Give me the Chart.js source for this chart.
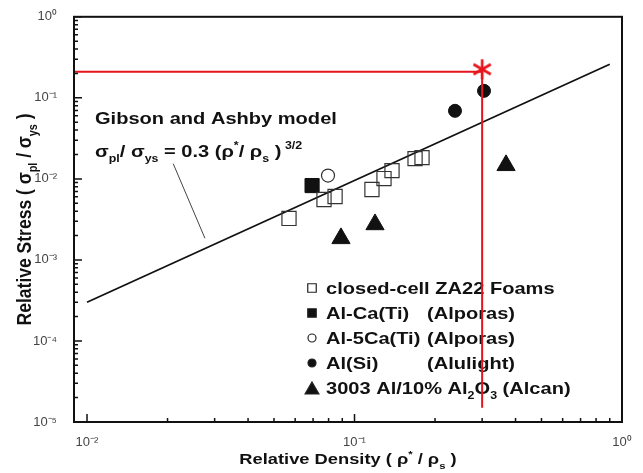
<!DOCTYPE html>
<html>
<head>
<meta charset="utf-8">
<script src="https://cdn.jsdelivr.net/npm/chart.js@4.4.1/dist/chart.umd.min.js"></script>
<style>
  html, body { margin: 0; padding: 0; background: #fff; }
  #wrap { width: 643px; height: 473px; }
</style>
</head>
<body>
<div id="wrap"><canvas id="chart"></canvas></div>
<script>
// relative density (x) vs relative plateau stress (y)
const za22X = [0.0569, 0.0769, 0.0846, 0.1162, 0.1289, 0.1381, 0.1684, 0.1788];
const za22Y = [0.00325, 0.00556, 0.00606, 0.00739, 0.01009, 0.01265, 0.01777, 0.01828];
const alCaX = [0.0694];
const alCaY = [0.00827];
const al5CaX = [0.0796];
const al5CaY = [0.0110];
const alSiX = [0.2375, 0.3049];
const alSiY = [0.0692, 0.122];
const alcanX = [0.089, 0.1193, 0.3685];
const alcanY = [0.001845, 0.00274, 0.0147];

// Gibson-Ashby line, its pointer, red guide lines and target mark
const modelX = [0.01, 0.9];
const modelY = [3.0e-4, 0.26];
const pointerX = [0.021, 0.0276];
const pointerY = [0.0154, 0.00185];
const guideX = [0.00894, 0.3, 0.3];
const guideY = [0.21, 0.21, 1.5e-5];
const markX = [0.3];
const markY = [0.225];

const xRange = [0.00894, 1];
const yRange = [1e-5, 1];

const legendNames = ['closed-cell ZA22 Foams', 'Al-Ca(Ti)', 'Al-5Ca(Ti)', 'Al(Si)', '3003 Al/10% Al_{2}O_{3} (Alcan)'];
const legendMakers = ['', '(Alporas)', '(Alporas)', '(Alulight)', ''];

const FONT = '"Liberation Sans", Arial, sans-serif';
const SX = 1.18;

const pts = (xs, ys) => xs.map((x, i) => ({ x, y: ys[i] }));

const SUP = { '-': '\u207B', '0': '\u2070', '1': '\u00B9', '2': '\u00B2', '3': '\u00B3', '4': '\u2074', '5': '\u2075' };
function powLabel(v) {
  const e = Math.round(Math.log10(v));
  if (Math.abs(Math.log10(v) - e) > 1e-6) return '';
  return '10' + String(e).split('').map(c => SUP[c]).join('');
}

// 6-armed asterisk used as a point style
function asterisk(size, color) {
  const c = document.createElement('canvas');
  c.width = c.height = size;
  const g = c.getContext('2d');
  g.strokeStyle = color;
  g.lineWidth = 2.6;
  const r = size / 2 - 1;
  for (let i = 0; i < 3; i++) {
    const a = Math.PI / 2 + i * Math.PI / 3;
    g.beginPath();
    g.moveTo(size / 2 + r * Math.cos(a), size / 2 + r * Math.sin(a));
    g.lineTo(size / 2 - r * Math.cos(a), size / 2 - r * Math.sin(a));
    g.stroke();
  }
  return c;
}

// text with _{..} subscripts and ^{..} superscripts, returns width
function richText(ctx, str, x, y, size, draw) {
  const parts = [];
  const re = /([_^])\{([^}]*)\}/g;
  let last = 0, m;
  while ((m = re.exec(str))) {
    if (m.index > last) parts.push({ t: str.slice(last, m.index), k: '' });
    parts.push({ t: m[2], k: m[1] });
    last = re.lastIndex;
  }
  if (last < str.length) parts.push({ t: str.slice(last), k: '' });
  let cx = x;
  parts.forEach(p => {
    const s = p.k ? size * 0.62 : size;
    const dy = p.k === '_' ? size * 0.3 : p.k === '^' ? -size * 0.45 : 0;
    ctx.font = `bold ${s}px ${FONT}`;
    if (draw !== false) ctx.fillText(p.t, cx, y + dy);
    cx += ctx.measureText(p.t).width;
  });
  return cx - x;
}

function wideText(ctx, str, x, y, size, sx) {
  ctx.save();
  ctx.translate(x, y);
  ctx.scale(sx, 1);
  richText(ctx, str, 0, 0, size);
  ctx.restore();
}

const legendStyles = [
  { pointStyle: 'rect', radius: 6, fill: 'rgba(0,0,0,0)' },
  { pointStyle: 'rect', radius: 6, fill: '#111' },
  { pointStyle: 'circle', radius: 4, fill: 'rgba(0,0,0,0)' },
  { pointStyle: 'circle', radius: 4, fill: '#111' },
  { pointStyle: 'triangle', radius: 8, fill: '#111' }
];

const decorations = {
  id: 'decorations',
  beforeDatasetsDraw(chart) {
    const ctx = chart.ctx;
    const area = chart.chartArea;
    ctx.save();
    ctx.fillStyle = '#111';
    ctx.textBaseline = 'alphabetic';
    // model annotation
    wideText(ctx, 'Gibson and Ashby model', 95, 124, 17, SX);
    wideText(ctx, '\u03C3_{pl}/ \u03C3_{ys} = 0.3 (\u03C1^{*}/ \u03C1_{s} )^{ 3/2}', 95, 157, 17, SX);

    // legend
    legendNames.forEach((name, i) => {
      const cy = 288 + i * 25;
      const st = legendStyles[i];
      ctx.lineWidth = 1.2;
      ctx.strokeStyle = '#222';
      ctx.fillStyle = st.fill;
      Chart.helpers.drawPoint(ctx, { pointStyle: st.pointStyle, radius: st.radius, borderWidth: 1.2, rotation: 0 }, 312, cy + (st.pointStyle === 'triangle' ? 2 : 0));
      ctx.fillStyle = '#111';
      wideText(ctx, name, 326, cy + 6, 17, SX);
      if (legendMakers[i]) wideText(ctx, legendMakers[i], 427, cy + 6, 17, SX);
    });

    // axis titles
    ctx.save();
    ctx.scale(SX, 1);
    const xt = 'Relative Density ( \u03C1^{*} / \u03C1_{s} )';
    const xw = richText(ctx, xt, 0, 0, 15.5, false);
    richText(ctx, xt, ((area.left + area.right) / 2) / SX - xw / 2, 464, 15.5);
    ctx.restore();

    ctx.save();
    ctx.translate(31, (area.top + area.bottom) / 2);
    ctx.rotate(-Math.PI / 2);
    ctx.scale(1, SX);
    const yt = 'Relative Stress ( \u03C3_{pl} / \u03C3_{ys} )';
    const yw = richText(ctx, yt, 0, 0, 17.5, false);
    richText(ctx, yt, -yw / 2, 0, 17.5);
    ctx.restore();
    ctx.restore();
  },
  afterDraw(chart) {
    const ctx = chart.ctx;
    const a = chart.chartArea;
    ctx.save();
    ctx.strokeStyle = '#111';
    ctx.lineWidth = 1.5;
    // inward tick marks
    const tickLen = v => {
      const e = Math.floor(Math.log10(v) + 1e-9);
      const m = v / Math.pow(10, e);
      if (Math.abs(m - Math.round(m)) > 1e-6) return 0;
      return Math.round(m) === 1 ? 8 : 4;
    };
    const xs = chart.scales.x, ys = chart.scales.y;
    ctx.beginPath();
    xs.ticks.forEach(t => {
      const len = tickLen(t.value);
      if (!len) return;
      const px = xs.getPixelForValue(t.value);
      ctx.moveTo(px, a.bottom);
      ctx.lineTo(px, a.bottom - len);
    });
    ys.ticks.forEach(t => {
      const len = tickLen(t.value);
      if (!len) return;
      const py = ys.getPixelForValue(t.value);
      ctx.moveTo(a.left, py);
      ctx.lineTo(a.left + len, py);
    });
    ctx.stroke();
    // frame
    ctx.lineWidth = 2;
    ctx.strokeRect(a.left, a.top, a.right - a.left, a.bottom - a.top);
    ctx.restore();
  }
};

new Chart(document.getElementById('chart'), {
  type: 'scatter',
  data: {
    datasets: [
      {
        label: 'mark', data: pts(markX, markY),
        pointStyle: asterisk(22, '#e8141c'), pointRadius: 11
      },
      {
        label: 'guide', data: pts(guideX, guideY), showLine: true,
        borderColor: '#e8141c', borderWidth: 2, pointRadius: 0, fill: false
      },
      {
        label: 'ZA22', data: pts(za22X, za22Y), pointStyle: 'rect', pointRadius: 10,
        backgroundColor: 'rgba(0,0,0,0)', borderColor: '#333', borderWidth: 1.2
      },
      {
        label: 'Al-5Ca(Ti)', data: pts(al5CaX, al5CaY), pointStyle: 'circle', pointRadius: 6.5,
        backgroundColor: 'rgba(0,0,0,0)', borderColor: '#333', borderWidth: 1.2
      },
      {
        label: 'Al-Ca(Ti)', data: pts(alCaX, alCaY), pointStyle: 'rect', pointRadius: 10,
        backgroundColor: '#111', borderColor: '#111', borderWidth: 1
      },
      {
        label: 'Al(Si)', data: pts(alSiX, alSiY), pointStyle: 'circle', pointRadius: 6.5,
        backgroundColor: '#111', borderColor: '#111', borderWidth: 1
      },
      {
        label: 'Alcan', data: pts(alcanX, alcanY), pointStyle: 'triangle', pointRadius: 10.5,
        backgroundColor: '#111', borderColor: '#111', borderWidth: 1
      },
      {
        label: 'model', data: pts(modelX, modelY), showLine: true,
        borderColor: '#111', borderWidth: 1.8, pointRadius: 0, fill: false
      },
      {
        label: 'pointer', data: pts(pointerX, pointerY), showLine: true,
        borderColor: '#444', borderWidth: 1, pointRadius: 0, fill: false
      }
    ]
  },
  options: {
    responsive: true,
    maintainAspectRatio: false,
    animation: false,
    layout: { padding: { top: 16, right: 21, left: 0, bottom: 0 } },
    plugins: { legend: { display: false }, tooltip: { enabled: false } },
    scales: {
      x: {
        type: 'logarithmic', min: xRange[0], max: xRange[1],
        grid: { display: false }, border: { display: false },
        afterFit: s => { s.height = 51; },
        ticks: {
          autoSkip: false, maxRotation: 0, padding: 5,
          color: '#444', font: { family: FONT, size: 13 },
          callback: v => powLabel(v)
        }
      },
      y: {
        type: 'logarithmic', min: yRange[0], max: yRange[1],
        grid: { display: false }, border: { display: false },
        afterFit: s => { s.width = 74; },
        ticks: {
          autoSkip: false, padding: 9,
          color: '#444', font: { family: FONT, size: 13 },
          callback: v => powLabel(v)
        }
      }
    }
  },
  plugins: [decorations]
});
</script>
</body>
</html>
